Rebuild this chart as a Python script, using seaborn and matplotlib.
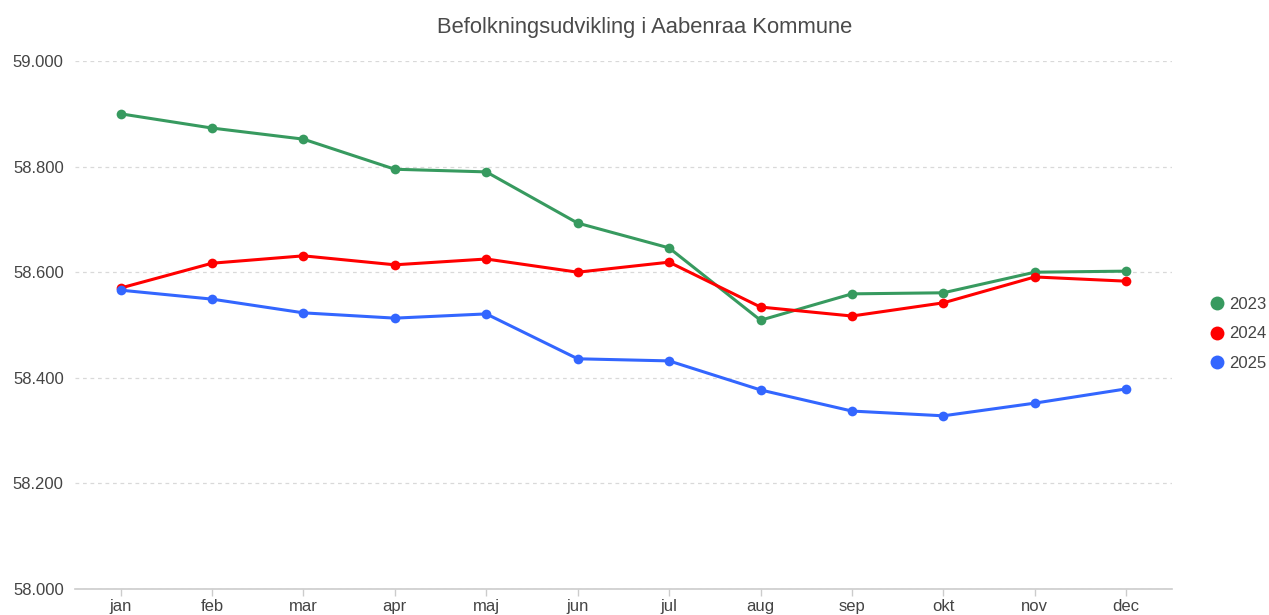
import matplotlib
matplotlib.use("Agg")
import matplotlib.pyplot as plt
import seaborn as sns
import pandas as pd
from matplotlib.ticker import FuncFormatter
from matplotlib.lines import Line2D

months = ["jan", "feb", "mar", "apr", "maj", "jun", "jul", "aug", "sep", "okt", "nov", "dec"]
y2023 = [58900, 58873, 58852, 58795, 58790, 58693, 58646, 58509, 58559, 58561, 58600, 58602]
y2024 = [58570, 58617, 58631, 58614, 58625, 58600, 58619, 58534, 58517, 58542, 58591, 58583]
y2025 = [58566, 58549, 58523, 58513, 58521, 58436, 58432, 58377, 58337, 58328, 58352, 58379]
years = ["2023", "2024", "2025"]
colors = ["#379a5f", "#ff0000", "#3366ff"]

df = pd.DataFrame({
    "month": months * 3,
    "x": list(range(12)) * 3,
    "value": y2023 + y2024 + y2025,
    "year": [years[0]] * 12 + [years[1]] * 12 + [years[2]] * 12,
})

sns.set_theme(style="white")
plt.rcParams["font.family"] = ["Liberation Sans", "DejaVu Sans"]

fig = plt.figure(figsize=(12.69, 6.15), dpi=100)
ax = fig.add_axes([0.059, 0.0423, 0.8645, 0.8585])

sns.lineplot(data=df, x="x", y="value", hue="year", palette=colors,
             marker="o", markersize=7, markeredgewidth=0, linewidth=2.2,
             ax=ax, legend=True)

ax.set_xlim(-0.5, 11.5)
ax.set_ylim(58000, 59000)
ax.set_yticks([58000, 58200, 58400, 58600, 58800, 59000])
ax.yaxis.set_major_formatter(FuncFormatter(lambda v, p: f"{int(v):,}".replace(",", ".")))
ax.set_xticks(range(12))
ax.set_xticklabels(months)
ax.set_xlabel("")
ax.set_ylabel("")
ax.grid(axis="y", color="#d9d9d9", linestyle=(0, (3, 3)), linewidth=0.9)
ax.set_axisbelow(True)
for s in ["top", "right", "left"]:
    ax.spines[s].set_visible(False)
ax.spines["bottom"].set_color("#cccccc")
ax.spines["bottom"].set_linewidth(1.2)
ax.tick_params(axis="x", length=5, color="#cccccc", width=1, labelsize=12, labelcolor="#444444", pad=2, bottom=True)
ax.tick_params(axis="y", length=0, labelsize=12, labelcolor="#444444", pad=8)

ax.set_title("Befolkningsudvikling i Aabenraa Kommune", fontsize=15.8, color="#4a4a4a", pad=20, x=0.519)

hs = [Line2D([], [], marker="o", linestyle="", color=c, markersize=10, markeredgewidth=0) for c in colors]
ax.legend(hs, years, loc="center left", bbox_to_anchor=(1.02, 0.483), frameon=False,
          fontsize=12, labelcolor="#444444", handletextpad=0.2, labelspacing=0.85, handlelength=1.0)

fig.savefig("out.png", dpi=100)
